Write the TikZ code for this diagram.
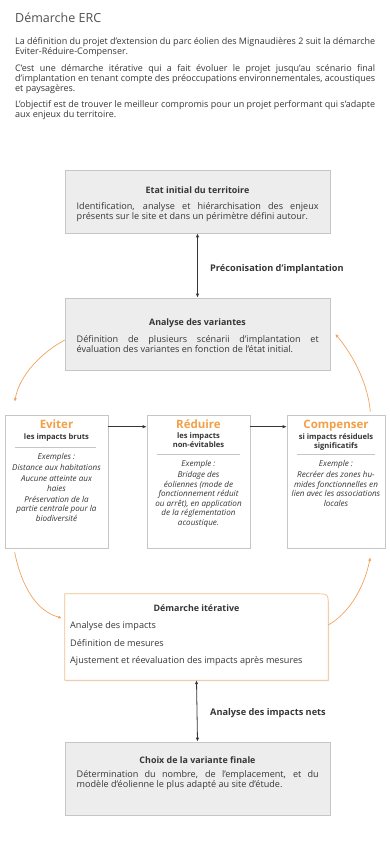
\documentclass[tikz,border=0pt]{standalone}
\usepackage{fontspec}
\setmainfont{Open Sans}
\usetikzlibrary{arrows.meta,shadows}
\definecolor{ink}{HTML}{363636}
\definecolor{headink}{HTML}{4F4F4F}
\definecolor{panel}{HTML}{EDEDED}
\definecolor{frame}{HTML}{C6C6C6}
\definecolor{ercorange}{HTML}{F2A048}
\definecolor{curveorange}{HTML}{EFA35E}
\definecolor{iterframe}{HTML}{F4BE86}
\begin{document}
\begin{tikzpicture}[x=1pt,y=-1pt,
  every node/.style={inner sep=0pt, text=ink},
  softshadow/.style={drop shadow={opacity=0.16, shadow xshift=0.8pt, shadow yshift=-1.2pt}},
  graybox/.style={draw=frame, fill=panel, line width=0.6pt, softshadow},
  whitebox/.style={draw=frame, fill=white, line width=0.6pt, softshadow},
  para/.style={anchor=north west, align=left, font=\fontsize{9}{10}\selectfont},
  boxtitle/.style={anchor=base, font=\bfseries\fontsize{8.9}{10}\selectfont},
  boxbody/.style={anchor=north west, align=left, font=\fontsize{9.1}{10}\selectfont},
  linklabel/.style={anchor=base west, font=\bfseries\fontsize{9.2}{10}\selectfont},
  itemline/.style={anchor=base west, font=\fontsize{9.1}{10}\selectfont},
  ercname/.style={anchor=base, font=\bfseries\fontsize{11.5}{12}\selectfont, text=ercorange},
  ercsub/.style={anchor=north, align=center, font=\bfseries\fontsize{7.6}{9}\selectfont},
  ercex/.style={anchor=north, align=center, font=\itshape\fontsize{8.1}{9.6}\selectfont},
  sepline/.style={draw=frame, line width=0.6pt},
  twoway/.style={draw=ink, line width=0.8pt, {Latex[length=4pt,width=3.4pt]}-{Latex[length=4pt,width=3.4pt]}},
  oneway/.style={draw=ink, line width=0.7pt, -{Latex[length=4pt,width=3.4pt]}},
  loop/.style={draw=curveorange, line width=0.7pt, -{Latex[length=3.5pt,width=3.2pt]}}
]
\useasboundingbox (0,0) rectangle (389,868);

% heading and introduction
\node[anchor=base west, font=\fontsize{12.5}{14}\selectfont, text=headink] (head) at (15,22) {Démarche ERC};
\node[para] (p1) at (15,37) {\makebox[360pt][s]{La définition du projet d'extension du parc éolien des Mignaudières 2 suit la démarche}\\Eviter-Réduire-Compenser.};
\node[para] (p2) at (15,64) {\makebox[360pt][s]{C'est une démarche itérative qui a fait évoluer le projet jusqu'au scénario final}\\\makebox[360pt][s]{d'implantation en tenant compte des préoccupations environnementales, acoustiques}\\et paysagères.};
\node[para] (p3) at (15,100) {\makebox[360pt][s]{L'objectif est de trouver le meilleur compromis pour un projet performant qui s'adapte}\\aux enjeux du territoire.};

% grey stages
\node[graybox, minimum width=265pt, minimum height=63pt] (etat) at (197.5,201.5) {};
\node[boxtitle] (etatT) at (197.5,193) {Etat initial du territoire};
\node[boxbody] (etatB) at (76.5,202) {\makebox[242pt][s]{Identification, analyse et hiérarchisation des enjeux}\\présents sur le site et dans un périmètre défini autour.};

\node[graybox, minimum width=265pt, minimum height=72pt] (variantes) at (197.5,334) {};
\node[boxtitle] (variantesT) at (197.5,325) {Analyse des variantes};
\node[boxbody] (variantesB) at (76.5,335) {\makebox[242pt][s]{Définition de plusieurs scénarii d'implantation et}\\évaluation des variantes en fonction de l'état initial.};

\node[graybox, minimum width=265pt, minimum height=73pt] (choix) at (197.5,778.5) {};
\node[boxtitle] (choixT) at (197.5,763) {Choix de la variante finale};
\node[boxbody] (choixB) at (76.5,770) {\makebox[242pt][s]{Détermination du nombre, de l'emplacement, et du}\\modèle d'éolienne le plus adapté au site d'étude.};

% the three ERC steps
\node[whitebox, minimum width=103pt, minimum height=133pt] (eviter) at (56.5,481.5) {};
\node[ercname] at (56.5,428) {Eviter};
\node[ercsub] at (56.5,434) {les impacts bruts};
\draw[sepline] ([xshift=10pt,yshift=-33pt]eviter.north west) -- ([xshift=-12pt,yshift=-33pt]eviter.north east);
\node[ercex] at (56.5,453) {Exemples :\\[1.5pt]Distance aux habitations\\[1.5pt]Aucune atteinte aux\\haies\\[1.5pt]Préservation de la\\partie centrale pour la\\biodiversité};

\node[whitebox, minimum width=103pt, minimum height=133pt] (reduire) at (198.5,481.5) {};
\node[ercname] at (198.5,428) {Réduire};
\node[ercsub] at (198.5,433) {les impacts\\non-évitables};
\draw[sepline] ([xshift=10pt,yshift=-40pt]reduire.north west) -- ([xshift=-10pt,yshift=-40pt]reduire.north east);
\node[ercex] at (198.5,460) {Exemple :\\[1.5pt]Bridage des\\éoliennes (mode de\\fonctionnement réduit\\ou arrêt), en application\\de la réglementation\\acoustique.};

\node[whitebox, minimum width=98pt, minimum height=133pt] (compenser) at (336,481.5) {};
\node[ercname] at (336,428) {Compenser};
\node[ercsub] at (336,433) {si impacts résiduels\\significatifs};
\draw[sepline] ([xshift=10pt,yshift=-40pt]compenser.north west) -- ([xshift=-10pt,yshift=-40pt]compenser.north east);
\node[ercex] at (336,460) {Exemple :\\[1.5pt]Recréer des zones hu-\\mides fonctionnelles en\\lien avec les associations\\locales};

% iterative loop box, rounded at its upper right corner
\node[minimum width=263pt, minimum height=86pt] (iter) at (196.5,637) {};
\fill[black, opacity=0.08] ([xshift=0.8pt,yshift=-1.2pt]iter.south west) -- ([xshift=0.8pt,yshift=-1.2pt]iter.north west) -- ([xshift=-11.2pt,yshift=-1.2pt]iter.north east) .. controls ([xshift=0.8pt,yshift=-1.2pt]iter.north east) .. ([xshift=0.8pt,yshift=-13.2pt]iter.north east) -- ([xshift=0.8pt,yshift=-1.2pt]iter.south east) -- cycle;
\draw[draw=iterframe, fill=white, line width=0.7pt] (iter.south west) -- (iter.north west) -- ([xshift=-12pt]iter.north east) .. controls (iter.north east) .. ([yshift=-12pt]iter.north east) -- (iter.south east) -- cycle;
\node[boxtitle] (iterT) at (196.5,611) {Démarche itérative};
\node[itemline] (iter1) at (70,628) {Analyse des impacts};
\node[itemline] (iter2) at (70,646) {Définition de mesures};
\node[itemline] (iter3) at (70,663) {Ajustement et réevaluation des impacts après mesures};

% black connectors
\draw[twoway] (etat.south) -- (variantes.north);
\node[linklabel] (lab1) at (210,271) {Préconisation d'implantation};
\draw[twoway] (iter.south) -- (choix.north);
\node[linklabel] (lab2) at (210,715) {Analyse des impacts nets};
\draw[oneway] ([yshift=-12pt]eviter.north east) -- ([yshift=-12pt]reduire.north west);
\draw[oneway] ([yshift=-12pt]reduire.north east) -- ([yshift=-12pt]compenser.north west);

% orange loop arrows
\draw[loop] ([yshift=-6pt]variantes.west) .. controls ([xshift=-22pt,yshift=-18pt]variantes.west) and ([xshift=-45pt,yshift=-40pt]variantes.west) .. ([xshift=10pt,yshift=13pt]eviter.north west);
\draw[loop] ([xshift=-15pt,yshift=3pt]compenser.north east) .. controls ([xshift=-17pt,yshift=28pt]compenser.north east) and ([xshift=-30pt,yshift=57pt]compenser.north east) .. ([xshift=5pt]variantes.east);
\draw[loop] ([xshift=10pt,yshift=-4pt]eviter.south west) .. controls ([xshift=15pt,yshift=-30pt]eviter.south west) and ([xshift=28pt,yshift=-62pt]eviter.south west) .. ([xshift=-3pt,yshift=19pt]iter.west);
\draw[loop] ([yshift=12pt]iter.east) .. controls ([xshift=18pt,yshift=22pt]iter.east) and ([xshift=35pt,yshift=45pt]iter.east) .. ([xshift=-15pt,yshift=-9pt]compenser.south east);
\end{tikzpicture}
\end{document}
